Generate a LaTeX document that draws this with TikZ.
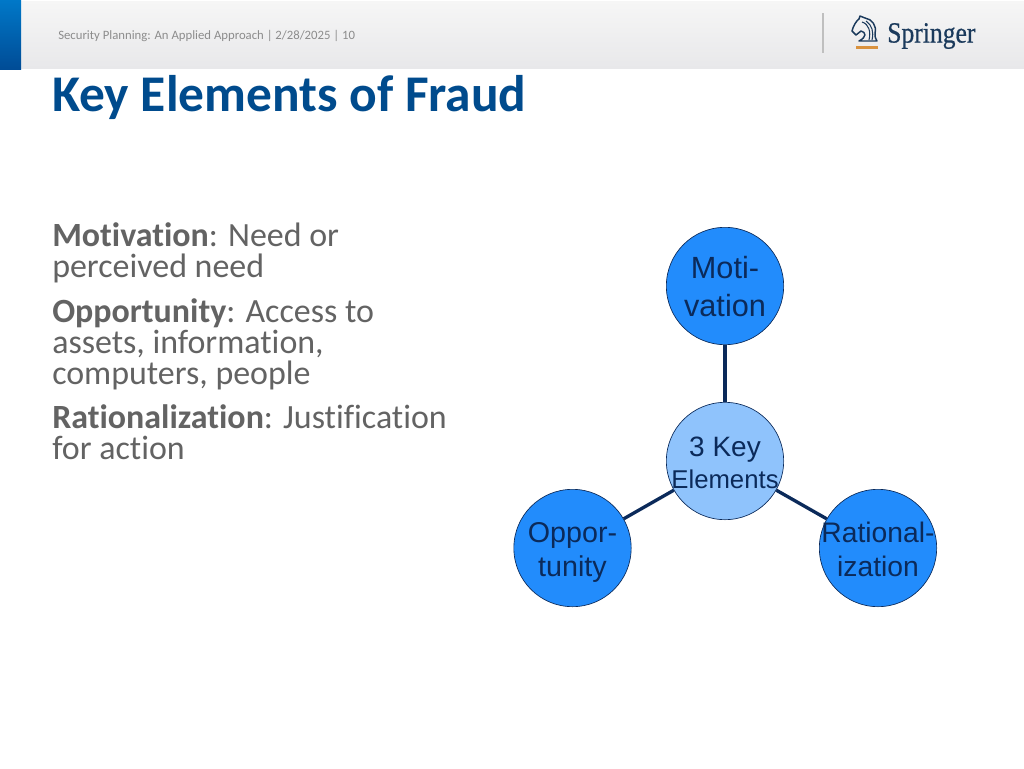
\documentclass[tikz,border=0pt]{standalone}
\usepackage{fontspec}
\setmainfont[RawFeature={-liga;-clig}]{Carlito}
\newfontfamily\arialf{Liberation Sans}
\newfontfamily\serif[FakeBold=0.6]{Liberation Serif}
\definecolor{titleblue}{HTML}{004B8D}
\definecolor{bodygray}{HTML}{636363}
\definecolor{headgray}{HTML}{8C8C8C}
\definecolor{circdark}{HTML}{228CFC}
\definecolor{circlight}{HTML}{8FC3FC}
\definecolor{navy}{HTML}{0B2A5A}
\definecolor{logonavy}{HTML}{1B3A5C}
\definecolor{logoorange}{HTML}{D9923F}
\definecolor{bandtop}{HTML}{F6F6F6}
\definecolor{bandbot}{HTML}{E8E8EA}
\tikzset{
  bubble/.style={circle,draw=navy,line width=0.5pt,minimum size=88pt,inner sep=0pt},
  outer/.style={bubble,fill=circdark},
  inner/.style={bubble,fill=circlight},
  link/.style={draw=navy,line width=2.5pt},
  bodytext/.style={anchor=north west,inner sep=0pt,text=bodygray,font=\fontsize{25.45}{23.25}\selectfont,align=left},
  bubbletext/.style={inner sep=0pt,text=navy,align=center},
}
\begin{document}
\begin{tikzpicture}[x=0.75pt,y=-0.75pt]
\useasboundingbox (0,0) rectangle (1024,768);
\fill[white] (0,0) rectangle (1024,768);
\shade[top color=bandtop,bottom color=bandbot] (21,1) rectangle (1024,68);
\shade[top color={rgb,255:red,0;green,120;blue,200},bottom color={rgb,255:red,0;green,76;blue,150}] (0,0) rectangle (21,69);
\node[anchor=west,inner sep=0pt,text=headgray,font=\fontsize{9.55}{11}\selectfont] (hdr) at (58,36) {Security Planning: An Applied Approach | 2/28/2025 | 10};
\node[anchor=west,inner sep=0pt,text=titleblue,font=\bfseries\fontsize{38.6}{44}\selectfont] (title) at (52,97) {Key Elements of Fraud};
% body
\node[bodytext] (t1) at (52,222) {\textbf{Motivation}: Need or\\perceived need};
\node[bodytext] (t2) at (52,298) {\textbf{Opportunity}: Access to\\assets, information,\\computers, people};
\node[bodytext] (t3) at (52,404) {\textbf{Rationalization}: Justification\\for action};
% diagram
\node[outer] (m) at (725,286) {};
\node[outer] (o) at (572.5,548) {};
\node[outer] (r) at (878,548) {};
\node[inner] (c) at (725,461) {};
\draw[link] (m) -- (c);
\draw[link] (o) -- (c);
\draw[link] (r) -- (c);
\node[bubbletext,font=\arialf\fontsize{23}{28.5}\selectfont] (ml) at (725,287) {Moti-\\vation};
\node[bubbletext,font=\arialf\fontsize{21.5}{25.5}\selectfont] (ol) at (572.5,552) {Oppor-\\tunity};
\node[bubbletext,font=\arialf\fontsize{21.2}{25.5}\selectfont] (rl) at (878,549.5) {Rational-\\ization};
\node[bubbletext,font=\arialf\fontsize{21}{24}\selectfont] (cl1) at (725,450) {3 Key};
\node[bubbletext,font=\arialf\fontsize{19.3}{22}\selectfont] (cl2) at (725,479) {Elements};
% logo
\draw[black!25,line width=0.8pt] (823,13) -- (823,53);
\fill[logoorange] (856,46) rectangle (878,49);
\draw[logonavy,line width=1.1pt,line join=round]
  (859,41) .. controls (867,37) and (866,32) .. (861,31) -- (856,35) -- (852,31)
  .. controls (853,26) and (857,20) .. (859,19) -- (860,16) -- (865,18)
  .. controls (872,19) and (877,26) .. (875,33) .. controls (875,36) and (875,39) .. (877,41) -- cycle;
\draw[logonavy,line width=0.8pt] (862,22) .. controls (869,24) and (871,32) .. (869,40);
\draw[logonavy,line width=0.8pt] (866,21) .. controls (872,25) and (874,32) .. (872,40);
\node[anchor=west,inner sep=0pt,text=logonavy,font=\serif\fontsize{20}{24}\selectfont,xscale=0.96,yscale=1.1] (sp) at (887,36) {Springer};
\end{tikzpicture}
\end{document}
